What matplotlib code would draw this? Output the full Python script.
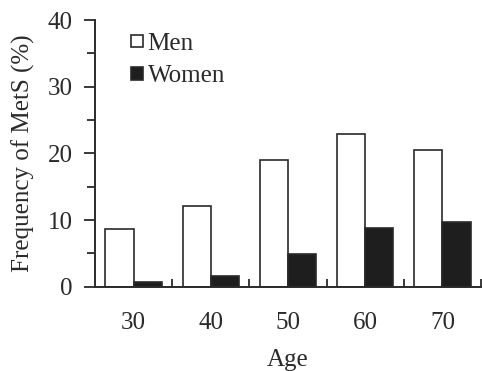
import matplotlib
matplotlib.use("Agg")
import matplotlib.pyplot as plt
from matplotlib.patches import Patch
import numpy as np

ages = ["30", "40", "50", "60", "70"]
men = [8.6, 12.1, 19.0, 22.9, 20.5]
women = [0.7, 1.65, 4.9, 8.75, 9.75]

plt.rcParams['font.family'] = ['Liberation Serif', 'DejaVu Serif']
plt.rcParams['font.size'] = 18
ink = '#2a2a2a'

fig = plt.figure(figsize=(4.82, 3.71), dpi=100)
ax = fig.add_axes([0.197, 0.227, 0.801, 0.719])

x = np.arange(len(ages)) + 0.5
w = 0.365
ax.bar(x - w / 2, men, w, color='white', edgecolor=ink, linewidth=1.2, label='Men')
ax.bar(x + w / 2, women, w, color='#1e1e1e', edgecolor=ink, linewidth=1.2, label='Women')

ax.set_xlim(0, len(ages))
ax.set_ylim(0, 40)
for s in ['top', 'right']:
    ax.spines[s].set_visible(False)
for s in ['left', 'bottom']:
    ax.spines[s].set_linewidth(1.4)
    ax.spines[s].set_color(ink)

# group labels at bar centres, short inward ticks between groups
ax.set_xticks(x)
ax.set_xticklabels(ages)
ax.set_xticks(np.arange(1, len(ages) + 1), minor=True)
ax.tick_params(axis='x', which='major', length=0, pad=18, colors=ink)
ax.tick_params(axis='x', which='minor', direction='in', length=6, width=1.3, color=ink)

ax.set_yticks([0, 10, 20, 30, 40])
ax.set_yticks([5, 15, 25, 35], minor=True)
ax.tick_params(axis='y', which='major', length=8, width=1.3, pad=8, colors=ink)
ax.tick_params(axis='y', which='minor', length=6, width=1.3, color=ink)

ax.set_xlabel("Age", color=ink, labelpad=11)
ax.set_ylabel("Frequency of MetS (%)", color=ink, labelpad=9)

handles = [Patch(facecolor='white', edgecolor=ink, linewidth=1.2, label='Men'),
           Patch(facecolor='#1e1e1e', edgecolor=ink, linewidth=1.2, label='Women')]
leg = ax.legend(handles=handles, loc='upper left', bbox_to_anchor=(0.245, 0.945),
                bbox_transform=fig.transFigure, frameon=False, borderpad=0,
                handlelength=0.48, handleheight=0.42, handletextpad=0.2,
                labelspacing=0.42)
for t in leg.get_texts():
    t.set_color(ink)

fig.savefig("out.png", dpi=100)
